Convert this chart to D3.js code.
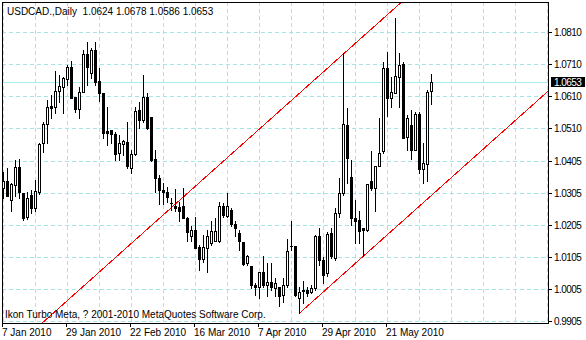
<!DOCTYPE html>
<html><head><meta charset="utf-8">
<script src="https://cdn.jsdelivr.net/npm/d3@7/dist/d3.min.js"></script>
<style>
html,body{margin:0;padding:0;background:#fff;}
svg{display:block;}
text{font-family:"Liberation Sans",Arial,sans-serif;font-size:10px;fill:#000;}
text.num{letter-spacing:-0.55px;}
</style></head>
<body>
<svg id="chart" width="586" height="340"></svg>
<script>
// ---- data (USDCAD daily, from 7 Jan 2010) ----
const symbolTitle = "USDCAD.,Daily";
const copyrightText = "Ikon Turbo Meta, ? 2001-2010 MetaQuotes Software Corp.";
const firstDate = "2010-01-07";
const opens = [1.0321,1.0344,1.0284,1.0331,1.0387,1.0306,1.0232,1.0300,1.0260,1.0309,
1.0462,1.0521,1.0579,1.0575,1.0625,1.0639,1.0662,1.0701,1.0607,1.0568,
1.0621,1.0740,1.0681,1.0754,1.0657,1.0618,1.0500,1.0503,1.0490,1.0431,
1.0459,1.0467,1.0384,1.0427,1.0566,1.0535,1.0606,1.0543,1.0413,1.0354,
1.0316,1.0310,1.0275,1.0266,1.0262,1.0264,1.0229,1.0170,1.0191,1.0138,
1.0100,1.0135,1.0149,1.0154,1.0154,1.0266,1.0234,1.0253,1.0209,1.0180,
1.0151,1.0086,1.0076,1.0019,1.0013,1.0060,1.0019,1.0026,1.0008,1.0013,
0.9987,1.0019,1.0141,1.0141,0.9977,1.0003,1.0003,0.9995,1.0008,1.0172,
1.0097,1.0055,1.0182,1.0102,1.0243,1.0305,1.0519,1.0357,1.0227,1.0220,
1.0196,1.0191,1.0342,1.0321,1.0389,1.0436,1.0696,1.0603,1.0620,1.0670,
1.0710,1.0481,1.0519,1.0441,1.0554,1.0381,1.0397,1.0624];
const highs = [1.0373,1.0384,1.0337,1.0410,1.0413,1.0306,1.0310,1.0316,1.0347,1.0463,
1.0528,1.0597,1.0613,1.0688,1.0676,1.0670,1.0707,1.0719,1.0607,1.0639,
1.0754,1.0780,1.0759,1.0780,1.0696,1.0618,1.0576,1.0503,1.0498,1.0488,
1.0472,1.0529,1.0441,1.0576,1.0592,1.0675,1.0618,1.0543,1.0441,1.0363,
1.0337,1.0326,1.0290,1.0319,1.0279,1.0321,1.0232,1.0201,1.0232,1.0144,
1.0175,1.0191,1.0217,1.0227,1.0279,1.0274,1.0305,1.0259,1.0217,1.0191,
1.0151,1.0112,1.0076,1.0024,1.0060,1.0107,1.0086,1.0086,1.0040,1.0013,
1.0040,1.0162,1.0217,1.0141,1.0013,1.0029,1.0013,1.0019,1.0175,1.0196,
1.0105,1.0185,1.0197,1.0259,1.0352,1.0743,1.0571,1.0410,1.0284,1.0248,
1.0196,1.0335,1.0436,1.0391,1.0540,1.0717,1.0748,1.0670,1.0853,1.0745,
1.0717,1.0550,1.0566,1.0558,1.0558,1.0462,1.0629,1.0678];
const lows = [1.0290,1.0295,1.0248,1.0295,1.0290,1.0222,1.0225,1.0243,1.0248,1.0302,
1.0434,1.0462,1.0540,1.0556,1.0592,1.0556,1.0644,1.0603,1.0559,1.0542,
1.0621,1.0644,1.0665,1.0644,1.0594,1.0477,1.0456,1.0462,1.0410,1.0410,
1.0425,1.0384,1.0368,1.0425,1.0509,1.0529,1.0507,1.0407,1.0309,1.0271,
1.0271,1.0279,1.0253,1.0248,1.0217,1.0227,1.0157,1.0156,1.0133,1.0066,
1.0091,1.0060,1.0144,1.0154,1.0151,1.0232,1.0232,1.0201,1.0172,1.0128,
1.0081,1.0081,1.0008,0.9987,0.9977,1.0013,0.9982,1.0003,0.9982,0.9951,
0.9966,1.0013,1.0128,0.9982,0.9931,0.9961,0.9982,0.9993,1.0003,1.0081,
1.0024,1.0045,1.0103,1.0097,1.0232,1.0300,1.0337,1.0206,1.0149,1.0149,
1.0110,1.0188,1.0316,1.0248,1.0389,1.0432,1.0547,1.0576,1.0618,1.0576,
1.0477,1.0441,1.0412,1.0441,1.0368,1.0337,1.0342,1.0586];
const closes = [1.0344,1.0298,1.0334,1.0387,1.0309,1.0229,1.0290,1.0259,1.0313,1.0460,
1.0521,1.0575,1.0573,1.0625,1.0641,1.0665,1.0700,1.0603,1.0568,1.0621,
1.0740,1.0700,1.0754,1.0653,1.0618,1.0495,1.0495,1.0490,1.0427,1.0462,
1.0469,1.0389,1.0427,1.0563,1.0535,1.0606,1.0509,1.0410,1.0352,1.0316,
1.0310,1.0292,1.0273,1.0259,1.0248,1.0227,1.0185,1.0191,1.0135,1.0100,
1.0138,1.0170,1.0188,1.0188,1.0266,1.0238,1.0266,1.0209,1.0196,1.0154,
1.0084,1.0109,1.0019,1.0011,1.0057,1.0019,1.0026,1.0013,1.0024,0.9984,
1.0019,1.0123,1.0140,0.9987,0.9995,0.9998,0.9993,1.0008,1.0172,1.0097,
1.0050,1.0178,1.0107,1.0243,1.0305,1.0521,1.0415,1.0227,1.0217,1.0188,
1.0191,1.0335,1.0321,1.0391,1.0432,1.0696,1.0603,1.0623,1.0672,1.0707,
1.0477,1.0540,1.0441,1.0554,1.0381,1.0399,1.0623,1.0653];
const priceTicks = [0.9905,1.0005,1.0105,1.0205,1.0305,1.0405,1.0510,1.0610,1.0710,1.0810];
const dateTickEvery = 16;   // bars between date labels
const gridEvery = 8;        // bars between vertical grid lines
// channel: lower line through two lows, upper parallel through one high
const channelLowBars = [74, 90];
const channelHighBar = 85;

// ---- trading calendar (weekdays) ----
const dates = [];
{ let d = new Date(firstDate + "T00:00:00Z");
  while (dates.length < closes.length) {
    const wd = d.getUTCDay();
    if (wd !== 0 && wd !== 6) dates.push(new Date(d));
    d = new Date(d.getTime() + 86400000);
  } }
const bars = closes.map((c, i) => ({i, date: dates[i], o: opens[i], h: highs[i], l: lows[i], c}));

// ---- layout ----
const W = 586, H = 340;
const plot = {left: 2, top: 2, right: 548, bottom: 323};
const svg = d3.select("#chart");
svg.append("rect").attr("width", W).attr("height", H).attr("fill", "#fff");

const x = d3.scaleLinear().domain([0, 1]).range([3, 7]);           // bar index -> pixel column
const y = d3.scaleLinear().domain([0.9905, 1.0810]).range([321, 32]);
const py = v => Math.round(y(v));

svg.append("defs").append("clipPath").attr("id", "clip")
  .append("rect").attr("x", plot.left).attr("y", plot.top)
  .attr("width", plot.right - plot.left).attr("height", plot.bottom - plot.top);

const g = svg.append("g").attr("clip-path", "url(#clip)");
const gridColor = "#a9e3e3";

// horizontal grid
g.selectAll("line.hg").data(priceTicks).join("line").attr("class", "hg")
  .attr("x1", plot.left).attr("x2", plot.right)
  .attr("y1", d => py(d) + 0.5).attr("y2", d => py(d) + 0.5)
  .attr("stroke", gridColor).attr("stroke-dasharray", "4,3").attr("shape-rendering", "crispEdges");

// vertical grid
const maxBar = Math.floor(x.invert(plot.right));
const vgrid = d3.range(0, maxBar + 1, gridEvery);
g.selectAll("line.vg").data(vgrid).join("line").attr("class", "vg")
  .attr("x1", d => x(d) + 0.5).attr("x2", d => x(d) + 0.5)
  .attr("y1", plot.top).attr("y2", plot.bottom)
  .attr("stroke", gridColor).attr("stroke-dasharray", "4,3").attr("shape-rendering", "crispEdges");

// bid line
const last = bars[bars.length - 1];
g.append("line").attr("x1", plot.left).attr("x2", plot.right)
  .attr("y1", py(last.c) + 0.5).attr("y2", py(last.c) + 0.5)
  .attr("stroke", "#a6eded").attr("shape-rendering", "crispEdges");

// copyright text (drawn under the marks)
svg.append("text").attr("x", 5).attr("y", 318).text(copyrightText);

// channel lines
const slope = (lows[channelLowBars[1]] - lows[channelLowBars[0]]) / (channelLowBars[1] - channelLowBars[0]);
const lowerAt = k => lows[channelLowBars[0]] + slope * (k - channelLowBars[0]);
const offset = highs[channelHighBar] - lowerAt(channelHighBar);
const line = d3.line().x(d => x(d[0]) + 0.5).y(d => y(d[1]) + 0.5);
const farBar = maxBar + 4;
g.append("path").attr("d", line([[channelLowBars[0], lowerAt(channelLowBars[0])], [farBar, lowerAt(farBar)]]))
  .attr("fill", "none").attr("stroke", "#ff0000").attr("stroke-width", 1).attr("shape-rendering", "crispEdges");
g.append("path").attr("d", line([[-30, lowerAt(-30) + offset], [farBar, lowerAt(farBar) + offset]]))
  .attr("fill", "none").attr("stroke", "#ff0000").attr("stroke-width", 1).attr("shape-rendering", "crispEdges");

// candles
const cg = g.append("g").attr("shape-rendering", "crispEdges");
const candle = cg.selectAll("g.c").data(bars).join("g").attr("class", "c");
candle.append("rect")
  .attr("x", d => x(d.i)).attr("width", 1)
  .attr("y", d => py(d.h)).attr("height", d => Math.max(1, py(d.l) - py(d.h) + 1))
  .attr("fill", "#000");
candle.append("rect")
  .attr("x", d => x(d.i) - 1).attr("width", 3)
  .attr("y", d => py(Math.max(d.o, d.c)))
  .attr("height", d => Math.max(1, py(Math.min(d.o, d.c)) - py(Math.max(d.o, d.c)) + 1))
  .attr("fill", "#000");
candle.filter(d => d.c > d.o && (py(d.o) - py(d.c)) >= 2).append("rect")
  .attr("x", d => x(d.i)).attr("width", 1)
  .attr("y", d => py(d.c) + 1).attr("height", d => py(d.o) - py(d.c) - 1)
  .attr("fill", "#fff");

// frame
svg.append("rect").attr("x", plot.left + 0.5).attr("y", plot.top + 0.5)
  .attr("width", plot.right - plot.left).attr("height", plot.bottom - plot.top)
  .attr("fill", "none").attr("stroke", "#000").attr("shape-rendering", "crispEdges");

// title
const fmt = d3.format(".4f");
svg.append("text").attr("x", 7).attr("y", 15).attr("xml:space", "preserve")
  .text(`${symbolTitle}  ${fmt(last.o)} ${fmt(last.h)} ${fmt(last.l)} ${fmt(last.c)}`);

// x axis
const dateTicks = bars.filter(d => d.i % dateTickEvery === 0);
const fmtDate = d3.utcFormat("%-d %b %Y");
const xa = svg.append("g");
xa.selectAll("line").data(dateTicks).join("line")
  .attr("x1", d => x(d.i) - 0.5).attr("x2", d => x(d.i) - 0.5)
  .attr("y1", plot.bottom).attr("y2", plot.bottom + 4)
  .attr("stroke", "#000").attr("shape-rendering", "crispEdges");
xa.selectAll("text").data(dateTicks).join("text")
  .attr("x", d => x(d.i) - 1).attr("y", 336).text(d => fmtDate(d.date));

// y axis
const ya = svg.append("g");
ya.selectAll("line").data(priceTicks).join("line")
  .attr("x1", plot.right).attr("x2", plot.right + 4)
  .attr("y1", d => py(d) + 0.5).attr("y2", d => py(d) + 0.5)
  .attr("stroke", "#000").attr("shape-rendering", "crispEdges");
ya.selectAll("text").data(priceTicks).join("text").attr("class", "num")
  .attr("x", 554).attr("y", d => py(d) + 4).text(d => fmt(d));

// current price label
const ly = py(last.c);
svg.append("rect").attr("x", 551).attr("y", ly - 5).attr("width", 34).attr("height", 10).attr("fill", "#000");
svg.append("text").attr("class", "num").attr("x", 554).attr("y", ly + 4).style("fill", "#fff").text(fmt(last.c));
</script>
</body></html>
